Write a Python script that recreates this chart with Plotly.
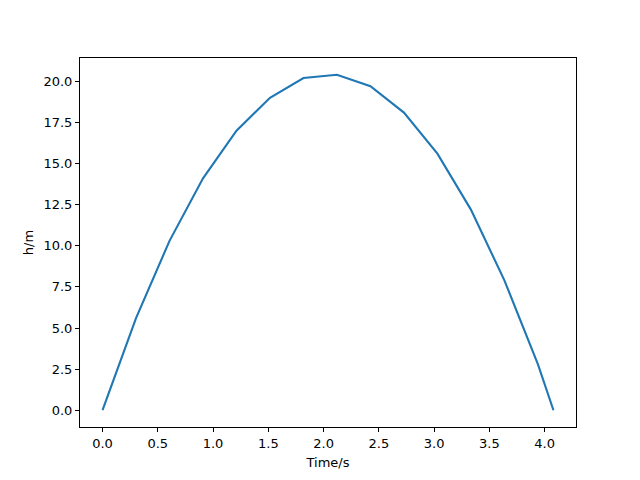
import plotly.graph_objects as go

time_s = [0.0, 0.303, 0.606, 0.909, 1.212, 1.515, 1.818, 2.121, 2.424, 2.727, 3.03, 3.333, 3.636, 3.939, 4.08]
height_m = [0.0, 5.6, 10.3, 14.1, 17.0, 19.0, 20.2, 20.4, 19.7, 18.1, 15.6, 12.2, 7.9, 2.8, 0.0]

x_ticks = [0.0, 0.5, 1.0, 1.5, 2.0, 2.5, 3.0, 3.5, 4.0]
y_ticks = [0.0, 2.5, 5.0, 7.5, 10.0, 12.5, 15.0, 17.5, 20.0]

fig = go.Figure()
fig.add_trace(go.Scatter(x=time_s, y=height_m, mode="lines",
                         line=dict(color="#1f77b4", width=2.1)))

axis_common = dict(showline=True, linecolor="black", linewidth=1, mirror=True,
                   ticks="outside", ticklen=4, tickwidth=1, tickcolor="black",
                   showgrid=False, zeroline=False,
                   tickfont=dict(family="DejaVu Sans", size=13, color="black"))

xmin, xmax = min(time_s), max(time_s)
ymin, ymax = min(height_m), max(height_m)
xpad = (xmax - xmin) * 0.05
ypad = (ymax - ymin) * 0.05

fig.update_xaxes(range=[xmin - xpad, xmax + xpad], tickvals=x_ticks,
                 ticktext=[f"{v:.1f}" for v in x_ticks],
                 title=dict(text="Time/s", font=dict(family="DejaVu Sans", size=13, color="black"), standoff=8),
                 **axis_common)
fig.update_yaxes(range=[ymin - ypad, ymax + ypad], tickvals=y_ticks,
                 ticktext=[f"{v:.1f}" for v in y_ticks],
                 title=dict(text="h/m", font=dict(family="DejaVu Sans", size=13, color="black"), standoff=6),
                 **axis_common)

fig.update_layout(width=632, height=472, showlegend=False,
                  paper_bgcolor="white", plot_bgcolor="white",
                  margin=dict(l=72, r=64, t=50, b=53))

fig.write_html("out.html")
